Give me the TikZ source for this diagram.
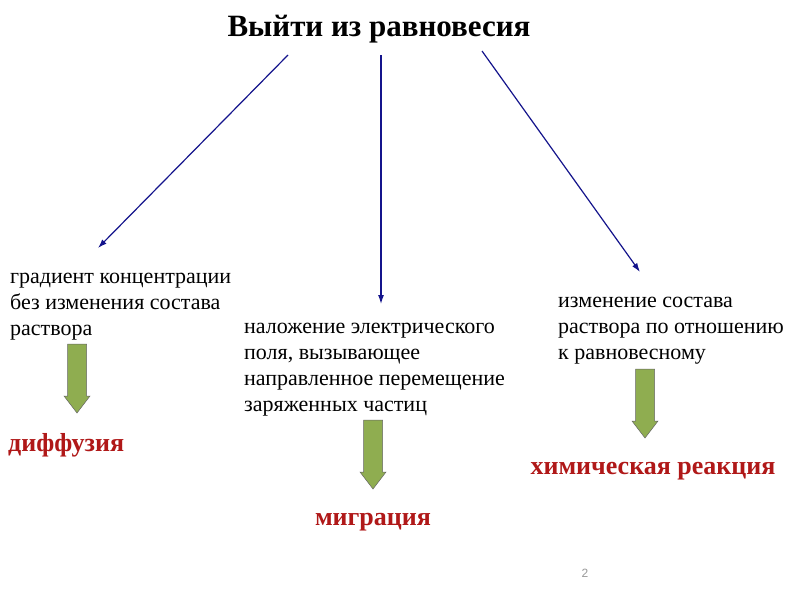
\documentclass[tikz,border=0pt]{standalone}
\usepackage{fontspec}
\setmainfont{Liberation Serif}
\setsansfont{Liberation Sans}
\usetikzlibrary{positioning, arrows.meta}

\definecolor{linkblue}{RGB}{20,20,140}
\definecolor{olive}{RGB}{143,173,80}
\definecolor{darkred}{RGB}{176,24,24}

\tikzset{
  link/.style={draw=linkblue, line width=1.2pt, -{Latex[length=9pt,width=6pt]}},
  txt/.style={anchor=north west, align=left, inner sep=0pt, font=\fontsize{22}{26}\selectfont},
  result/.style={text=darkred, font=\fontsize{26}{28}\selectfont\bfseries, inner sep=0pt},
  greenarr/.pic={
    \draw[fill=olive, draw=black!60, line width=0.5pt]
      (-9.5,0) -- (9.5,0) -- (9.5,52) -- (13,52) -- (0,69) -- (-13,52) -- (-9.5,52) -- cycle;
  }
}

\begin{document}
\begin{tikzpicture}[x=1pt, y=-1pt]
\useasboundingbox[fill=white] (0,0) rectangle (800,600);

\node[font=\fontsize{31}{33}\selectfont\bfseries] (title) at (379,29) {Выйти из равновесия};

% three reasons
\node[txt] (grad) at (10,273) {градиент концентрации\\без изменения состава\\раствора};
\node[txt] (field) at (244,323) {наложение электрического\\поля, вызывающее\\направленное перемещение\\заряженных частиц};
\node[txt] (comp) at (558,297) {изменение состава\\раствора по отношению\\к равновесному};

\coordinate (s1) at (288,55);
\coordinate (s2) at (381,55);
\coordinate (s3) at (482,51);
\coordinate (e1) at (98,248);
\coordinate (e2) at (381,304);
\coordinate (e3) at (640,272);
\draw[link] (s1) -- (e1);
\draw[link] (s2) -- (e2);
\draw[link] (s3) -- (e3);

\pic at (77,344) {greenarr};
\pic at (373,420) {greenarr};
\pic at (645,369) {greenarr};

\node[result, anchor=west] (diff) at (8,445) {диффузия};
\node[result] (migr) at (373,522) {миграция};
\node[result] (chem) at (653,471) {химическая реакция};

\node[text=black!40, font=\sffamily\fontsize{12}{14}\selectfont] (page) at (585,573) {2};
\end{tikzpicture}
\end{document}
